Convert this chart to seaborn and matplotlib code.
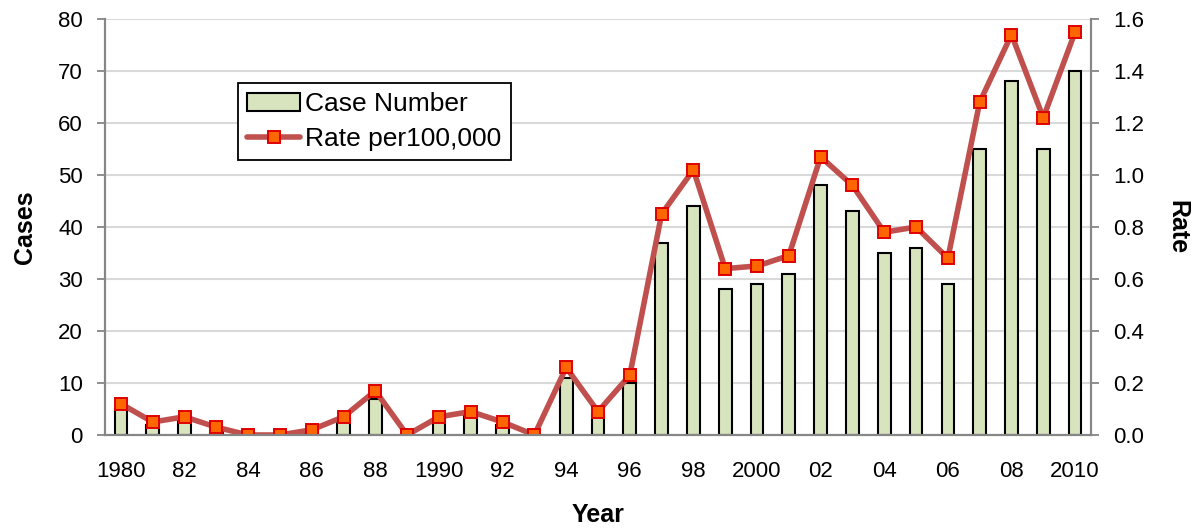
import numpy as np
import pandas as pd
import seaborn as sns
import matplotlib.pyplot as plt
from matplotlib.patches import Patch
from matplotlib.lines import Line2D
from matplotlib.ticker import FixedLocator, FormatStrFormatter

years = list(range(1980, 2011))
cases = [5, 2, 3, 1, 0, 0, 1, 3, 7, 0,
         3, 4, 2, 0, 11, 4, 10, 37, 44, 28,
         29, 31, 48, 43, 35, 36, 29, 55, 68, 55, 70]
rates = [0.12, 0.05, 0.07, 0.03, 0.0, 0.0, 0.02, 0.07, 0.17, 0.0,
         0.07, 0.09, 0.05, 0.0, 0.26, 0.09, 0.23, 0.85, 1.02, 0.64,
         0.65, 0.69, 1.07, 0.96, 0.78, 0.80, 0.68, 1.28, 1.54, 1.22, 1.55]
tick_labels = ["1980", "82", "84", "86", "88", "1990", "92", "94", "96", "98",
               "2000", "02", "04", "06", "08", "2010"]

bar_color = "#D7E4BD"
line_color = "#C0504D"
marker_face = "#FF6600"
marker_edge = "#E00000"
axis_gray = "#868686"

sns.set_theme(style="white")
plt.rcParams["font.family"] = ["Liberation Sans Narrow", "Liberation Sans", "DejaVu Sans"]
plt.rcParams["text.color"] = "black"
plt.rcParams["xtick.labelcolor"] = "black"
plt.rcParams["ytick.labelcolor"] = "black"
plt.rcParams["axes.labelcolor"] = "black"

df = pd.DataFrame({"year": [str(y) for y in years], "cases": cases, "rate": rates})

fig = plt.figure(figsize=(11.95, 5.31), dpi=100)
ax = fig.add_axes([105 / 1195, 1 - 435 / 531, 986 / 1195, 416 / 531])

sns.barplot(data=df, x="year", y="cases", ax=ax, color=bar_color, width=0.4,
            edgecolor="black", linewidth=1.5, saturation=1, zorder=2)

ax2 = ax.twinx()
sns.pointplot(data=df, x="year", y="rate", ax=ax2, color=line_color,
              markers="s", linestyles="-", errorbar=None,
              markersize=8.5, markerfacecolor=marker_face,
              markeredgecolor=marker_edge, markeredgewidth=1.4, linewidth=4)

# left axis
ax.set_ylim(0, 80)
ax.set_yticks(range(0, 81, 10))
ax.yaxis.grid(True, color="#D9D9D9", linewidth=1.5, zorder=0)
ax.set_axisbelow(True)
ax.set_xlim(-0.5, len(years) - 0.5)
ax.set_xticks(range(0, len(years), 2))
ax.set_xticklabels(tick_labels)
ax.xaxis.set_minor_locator(FixedLocator(np.arange(-0.5, len(years), 1)))
ax.tick_params(axis="x", which="major", length=0, pad=19, labelsize=16, labelcolor="black")
ax.tick_params(axis="x", which="minor", length=6, width=1.3, color=axis_gray, direction="out")
ax.tick_params(axis="y", length=6, width=1.3, color=axis_gray, direction="out", pad=10,
               labelsize=16, left=True, labelcolor="black")

# right axis
ax2.set_ylim(0, 1.6)
ax2.set_yticks(np.arange(0, 1.61, 0.2))
ax2.yaxis.set_major_formatter(FormatStrFormatter("%.1f"))
ax2.tick_params(axis="y", length=6, width=1.3, color=axis_gray, direction="out", pad=10,
                labelsize=16, right=True, labelcolor="black")
ax2.grid(False)

for a in (ax, ax2):
    a.spines["top"].set_visible(False)
    for s in ("left", "right", "bottom"):
        a.spines[s].set_color(axis_gray)
        a.spines[s].set_linewidth(1.5)

label_font = {"family": ["Liberation Sans", "DejaVu Sans"], "weight": "bold", "size": 18, "color": "black"}
ax.set_xlabel("Year", fontdict=label_font)
ax.set_ylabel("Cases", fontdict=label_font)
ax2.set_ylabel("Rate", fontdict=label_font, rotation=270)
ax.xaxis.set_label_coords(0.5, -0.163)
ax.yaxis.set_label_coords(-0.069, 0.5)
ax2.yaxis.set_label_coords(1.10, 0.5)

handles = [
    Patch(facecolor=bar_color, edgecolor="black", linewidth=1.5),
    Line2D([], [], color=line_color, linewidth=4, marker="s", markersize=8.5,
           markerfacecolor=marker_face, markeredgecolor=marker_edge, markeredgewidth=1.4),
]
leg = ax2.legend(handles, ["Case Number", "Rate per100,000"], loc="upper left",
                 bbox_to_anchor=(0.135, 0.846), borderaxespad=0, frameon=True,
                 fancybox=False, framealpha=1, edgecolor="black",
                 prop={"family": ["Liberation Sans", "DejaVu Sans"], "size": 19},
                 handlelength=2.0, handletextpad=0.2, labelspacing=0.4,
                 borderpad=0.35)
leg.get_frame().set_linewidth(1.3)
for t in leg.get_texts():
    t.set_color("black")

plt.savefig("out.png", dpi=100)
